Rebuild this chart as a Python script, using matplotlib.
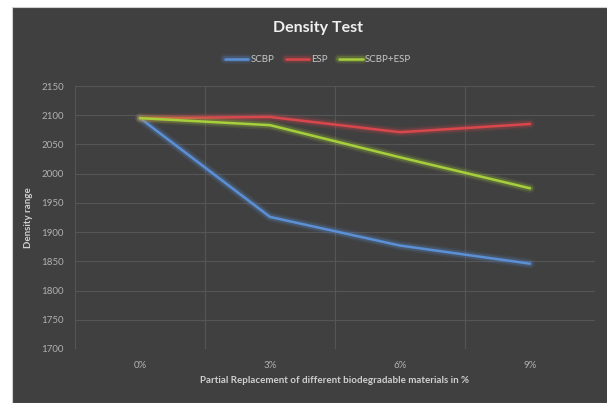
import matplotlib
matplotlib.use('Agg')
import matplotlib.pyplot as plt
import matplotlib.patheffects as pe
from matplotlib.patches import Rectangle

plt.rcParams['font.family'] = ['Lato', 'DejaVu Sans']

categories = ['0%', '3%', '6%', '9%']
scbp = [2095, 1926, 1877, 1846]
esp = [2095, 2097, 2071, 2085]
scbp_esp = [2095, 2083, 2028, 1975]
yticks = [1700, 1750, 1800, 1850, 1900, 1950, 2000, 2050, 2100, 2150]

BG = '#404040'
fig = plt.figure(figsize=(6.07, 4.03), dpi=100)
fig.patch.set_facecolor('white')
fig.patches.append(Rectangle((12/607, 0), 1, 1 - 7/403, transform=fig.transFigure,
                             facecolor=BG, edgecolor='#d0d0d0', lw=0.8, zorder=-10))

ax = fig.add_axes([75/607, 1 - 349/403, 520/607, 263/403])
ax.set_facecolor(BG)

x = list(range(len(categories)))

def glow(c):
    return [pe.Stroke(linewidth=7, foreground=c, alpha=0.1),
            pe.Stroke(linewidth=4.5, foreground=c, alpha=0.22),
            pe.Normal()]

series = [('SCBP', scbp, '#5b8fd6'), ('ESP', esp, '#d8474c'), ('SCBP+ESP', scbp_esp, '#a6cf3c')]
for name, vals, c in series:
    ax.plot(x, vals, color=c, lw=1.8, label=name, path_effects=glow(c), solid_capstyle='round')

ax.set_xlim(-0.5, 3.5)
ax.set_ylim(1700, 2150)
ax.set_yticks(yticks)
ax.set_xticks(x)
ax.set_xticklabels(categories)
ax.set_xticks([-0.5, 0.5, 1.5, 2.5, 3.5], minor=True)
ax.grid(True, axis='y', color='#555555', lw=0.8)
ax.grid(True, axis='x', which='minor', color='#555555', lw=0.8)
for s in ax.spines.values():
    s.set_visible(False)
ax.tick_params(axis='both', which='both', length=0, colors='#b0b0b0', labelsize=7)
ax.tick_params(axis='x', pad=9)
ax.tick_params(axis='y', pad=8)

ax.set_ylabel('Density range', color='#d0d0d0', fontsize=7, fontweight='bold', labelpad=6)
ax.set_xlabel('Partial Replacement of different biodegradable materials in %',
              color='#d0d0d0', fontsize=7, fontweight='bold', labelpad=4)

fig.text(318/607, 1 - 28/403, 'Density Test', ha='center', va='center',
         color='#f0f0f0', fontsize=11.5, fontweight='bold')

leg = ax.legend(loc='center', bbox_to_anchor=(318/607, 1 - 60/403), bbox_transform=fig.transFigure,
                ncol=3, frameon=False, fontsize=7, handlelength=2.4, columnspacing=1.2,
                handletextpad=0.2, labelcolor='#c8c8c8')

fig.savefig('out.png', dpi=100, facecolor=fig.get_facecolor())
